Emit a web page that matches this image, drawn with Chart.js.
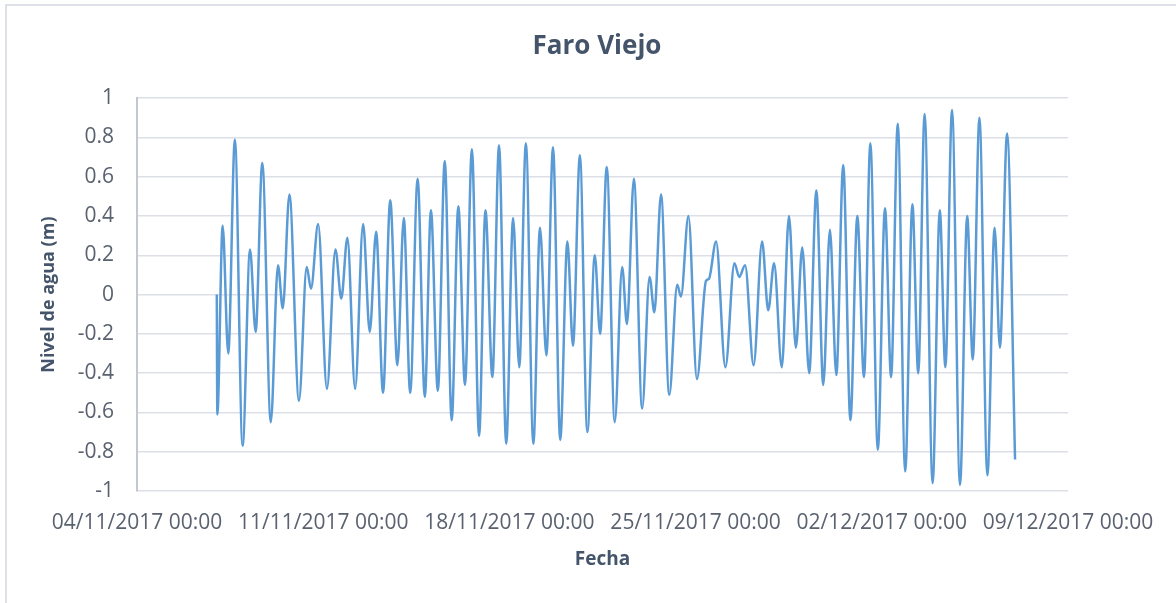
<!DOCTYPE html>
<html lang="es">
<head>
<meta charset="utf-8">
<title>Faro Viejo</title>
<script src="https://cdn.jsdelivr.net/npm/chart.js@4.4.1/dist/chart.umd.min.js"></script>
<style>
    html, body { margin: 0; padding: 0; background: #fff; }
    #wrap { position: relative; width: 1176px; height: 603px; overflow: hidden; }
    #marco {
        position: absolute; left: 5px; top: 4px; width: 1200px; height: 700px;
        border: 2px solid #dde1e7; pointer-events: none;
    }
</style>
</head>
<body>
<div id="wrap">
    <canvas id="grafico" width="1176" height="603"></canvas>
    <div id="marco"></div>
</div>
<script>
// Fecha de inicio del eje (04/11/2017 00:00)
const FECHA_INICIO = Date.UTC(2017, 10, 4);

// Días transcurridos desde 04/11/2017 00:00 (máximos y mínimos)
const dias = [
    3.00, 3.02, 3.22, 3.43, 3.68, 3.97, 4.25, 4.46, 4.71, 5.03,
    5.30, 5.48, 5.73, 6.09, 6.38, 6.54, 6.81, 7.14, 7.46, 7.68,
    7.91, 8.20, 8.50, 8.75, 8.99, 9.25, 9.52, 9.79, 10.03, 10.27,
    10.55, 10.82, 11.05, 11.31, 11.57, 11.83, 12.08, 12.33, 12.59, 12.86,
    13.10, 13.36, 13.61, 13.88, 14.14, 14.37, 14.62, 14.90, 15.15, 15.39,
    15.64, 15.91, 16.18, 16.39, 16.65, 16.93, 17.21, 17.41, 17.66, 17.96,
    18.24, 18.42, 18.68, 18.99, 19.27, 19.45, 19.70, 20.01, 20.31, 20.45,
    20.73, 21.05, 21.39, 21.50, 21.77, 22.12, 22.46, 22.64, 22.86, 23.18,
    23.50, 23.73, 23.95, 24.24, 24.51, 24.77, 25.01, 25.27, 25.54, 25.80,
    26.05, 26.29, 26.55, 26.82, 27.08, 27.33, 27.57, 27.85, 28.12, 28.35,
    28.60, 28.88, 29.15, 29.37, 29.61, 29.91, 30.18, 30.39, 30.64, 30.94,
    31.21, 31.42, 31.67, 31.97, 32.24, 32.44, 32.71, 33.01
];

// Nivel de agua (m)
const nivel = [
    0, -0.61, 0.35, -0.30, 0.79, -0.77, 0.23, -0.19, 0.67, -0.65,
    0.15, -0.07, 0.51, -0.54, 0.14, 0.03, 0.36, -0.48, 0.23, -0.02,
    0.29, -0.48, 0.36, -0.19, 0.32, -0.50, 0.48, -0.36, 0.39, -0.50,
    0.59, -0.52, 0.43, -0.49, 0.68, -0.64, 0.45, -0.46, 0.74, -0.72,
    0.43, -0.42, 0.76, -0.76, 0.39, -0.37, 0.77, -0.76, 0.34, -0.31,
    0.75, -0.74, 0.27, -0.26, 0.71, -0.70, 0.20, -0.20, 0.65, -0.65,
    0.14, -0.15, 0.59, -0.58, 0.09, -0.09, 0.51, -0.51, 0.05, -0.01,
    0.40, -0.43, 0.07, 0.08, 0.27, -0.37, 0.16, 0.09, 0.15, -0.36,
    0.27, -0.08, 0.16, -0.37, 0.40, -0.27, 0.24, -0.40, 0.53, -0.46,
    0.33, -0.41, 0.66, -0.64, 0.40, -0.42, 0.77, -0.79, 0.44, -0.42,
    0.87, -0.90, 0.46, -0.40, 0.92, -0.96, 0.43, -0.37, 0.94, -0.97,
    0.40, -0.33, 0.90, -0.92, 0.34, -0.27, 0.82, -0.84
];

// Marcas de los ejes
const marcasX = [0, 7, 14, 21, 28, 35];   // días: 04/11 ... 09/12
const marcasY = [-1, -0.8, -0.6, -0.4, -0.2, 0, 0.2, 0.4, 0.6, 0.8, 1];

const COLOR_TEXTO = '#5a6270';
const COLOR_TITULO = '#44546a';
const FUENTE = "'Open Sans', 'Noto Sans', sans-serif";

function dosDigitos(n) {
    return String(n).padStart(2, '0');
}

function formatoFecha(d) {
    const f = new Date(FECHA_INICIO + d * 86400000);
    return dosDigitos(f.getUTCDate()) + '/' + dosDigitos(f.getUTCMonth() + 1) + '/' +
        f.getUTCFullYear() + ' ' + dosDigitos(f.getUTCHours()) + ':' + dosDigitos(f.getUTCMinutes());
}

const puntos = dias.map((d, i) => ({ x: d, y: nivel[i] }));

const ctx = document.getElementById('grafico').getContext('2d');
new Chart(ctx, {
    type: 'line',
    data: {
        datasets: [{
            label: 'Nivel de agua',
            data: puntos,
            borderColor: '#5b9bd5',
            borderWidth: 2.5,
            pointRadius: 0,
            fill: false,
            cubicInterpolationMode: 'monotone'
        }]
    },
    options: {
        responsive: false,
        animation: false,
        layout: { padding: { left: 18, right: 0, top: 0, bottom: 0 } },
        plugins: {
            legend: { display: false },
            tooltip: { enabled: false },
            title: {
                display: true,
                text: 'Faro Viejo',
                color: COLOR_TITULO,
                font: { family: FUENTE, size: 26, weight: 'bold' },
                padding: { top: 31, bottom: 36 }
            }
        },
        scales: {
            x: {
                type: 'linear',
                min: 0,
                max: 35,
                afterBuildTicks: (s) => { s.ticks = marcasX.map(v => ({ value: v })); },
                afterFit: (s) => { s.height = 112; },
                ticks: {
                    color: COLOR_TEXTO,
                    font: { family: FUENTE, size: 21 },
                    maxRotation: 0,
                    autoSkip: false,
                    padding: 19,
                    callback: (v) => formatoFecha(v)
                },
                grid: { display: false, drawTicks: false },
                border: { display: false },
                title: {
                    display: true,
                    text: 'Fecha',
                    color: COLOR_TITULO,
                    font: { family: FUENTE, size: 19, weight: 'bold' },
                    padding: { top: 0, bottom: 32 }
                }
            },
            y: {
                min: -1,
                max: 1,
                afterBuildTicks: (s) => { s.ticks = marcasY.map(v => ({ value: v })); },
                afterFit: (s) => { s.width = 119; },
                ticks: {
                    color: COLOR_TEXTO,
                    font: { family: FUENTE, size: 21 },
                    padding: 23,
                    callback: (v) => String(Math.round(v * 10) / 10)
                },
                grid: { color: '#dcdfe5', lineWidth: 1.5, drawTicks: false },
                border: { display: true, color: '#c3c8d0', width: 2 },
                title: {
                    display: true,
                    text: 'Nivel de agua (m)',
                    color: COLOR_TITULO,
                    font: { family: FUENTE, size: 18, weight: 'bold' },
                    padding: { top: 20, bottom: 0 }
                }
            },
            // eje vacío a la derecha: deja el margen del área de trazado
            yDer: {
                axis: 'y',
                position: 'right',
                min: -1,
                max: 1,
                afterFit: (s) => { s.width = 108; },
                ticks: { display: false },
                grid: { display: false, drawTicks: false },
                border: { display: false }
            }
        }
    }
});
</script>
</body>
</html>
